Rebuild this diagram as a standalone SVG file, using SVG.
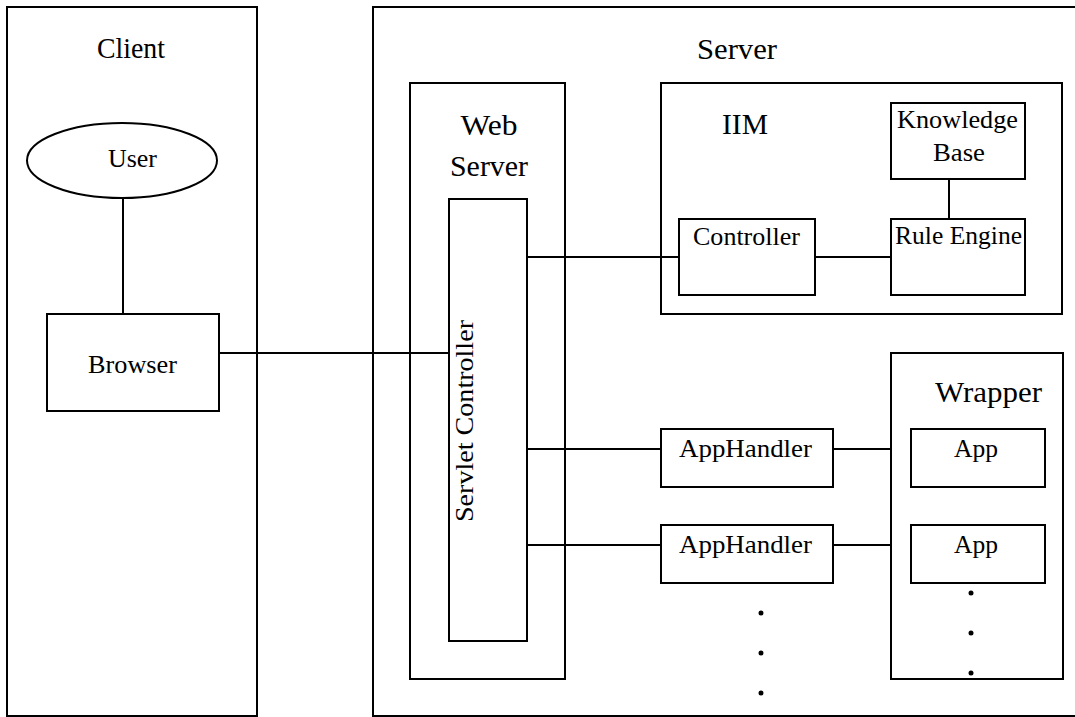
<svg xmlns="http://www.w3.org/2000/svg" width="1075" height="717" viewBox="0 0 1075 717">
<style>
.b{fill:none;stroke:#000;stroke-width:2}
.n{fill:#fff;stroke:#000;stroke-width:2}
.c{stroke:#000;stroke-width:2;fill:none}
.t{font-family:"Liberation Serif","Times New Roman",serif;font-size:30px;fill:#000;text-anchor:middle}
.s{font-family:"Liberation Serif","Times New Roman",serif;font-size:25px;fill:#000;text-anchor:middle}
.d{fill:#000}
</style>
<rect width="1075" height="717" fill="#fff"/>
<g id="client">
<rect class="b" x="7" y="7" width="250" height="709"/>
<text class="t" x="131" y="58" textLength="68" lengthAdjust="spacingAndGlyphs">Client</text>
</g>
<g id="server">
<rect class="b" x="373" y="7" width="720" height="709"/>
<text class="t" x="737" y="59" textLength="80" lengthAdjust="spacingAndGlyphs">Server</text>
</g>
<g id="connectors">
<line class="c" x1="123" y1="198" x2="123" y2="314"/>
<line class="c" x1="219" y1="353" x2="449" y2="353"/>
<line class="c" x1="527" y1="257" x2="679" y2="257"/>
<line class="c" x1="815" y1="257" x2="891" y2="257"/>
<line class="c" x1="949" y1="179" x2="949" y2="219"/>
<line class="c" x1="527" y1="449" x2="661" y2="449"/>
<line class="c" x1="527" y1="545" x2="661" y2="545"/>
<line class="c" x1="833" y1="449" x2="891" y2="449"/>
<line class="c" x1="833" y1="545" x2="891" y2="545"/>
</g>
<g id="user">
<ellipse class="n" cx="122" cy="160.5" rx="95" ry="37.5"/>
<text class="s" x="132.5" y="167" textLength="49" lengthAdjust="spacingAndGlyphs">User</text>
</g>
<g id="browser">
<rect class="n" x="47" y="314" width="172" height="97"/>
<text class="s" x="132.5" y="373" textLength="89" lengthAdjust="spacingAndGlyphs">Browser</text>
</g>
<g id="webserver">
<rect class="b" x="410" y="83" width="155" height="596"/>
<text class="t" x="489" y="135" textLength="57" lengthAdjust="spacingAndGlyphs">Web</text>
<text class="t" x="489" y="176" textLength="78" lengthAdjust="spacingAndGlyphs">Server</text>
</g>
<g id="servlet">
<rect class="n" x="449" y="199" width="78" height="442"/>
<text class="s" transform="translate(473 421) rotate(-90)" x="0" y="0" textLength="202" lengthAdjust="spacingAndGlyphs">Servlet Controller</text>
</g>
<g id="iim">
<rect class="b" x="661" y="83" width="401" height="231"/>
<text class="t" x="745" y="134" textLength="46" lengthAdjust="spacingAndGlyphs">IIM</text>
</g>
<g id="knowledgebase">
<rect class="n" x="891" y="103" width="134" height="76"/>
<text class="s" x="957.5" y="128" textLength="121" lengthAdjust="spacingAndGlyphs">Knowledge</text>
<text class="s" x="959" y="161" textLength="52" lengthAdjust="spacingAndGlyphs">Base</text>
</g>
<g id="controller">
<rect class="n" x="679" y="219" width="136" height="76"/>
<text class="s" x="746.5" y="245" textLength="107" lengthAdjust="spacingAndGlyphs">Controller</text>
</g>
<g id="ruleengine">
<rect class="n" x="891" y="219" width="134" height="76"/>
<text class="s" x="958.5" y="244" textLength="127" lengthAdjust="spacingAndGlyphs">Rule Engine</text>
</g>
<g id="wrapper">
<rect class="b" x="891" y="353" width="172" height="326"/>
<text class="t" x="988.5" y="402" textLength="107" lengthAdjust="spacingAndGlyphs">Wrapper</text>
</g>
<g id="apphandler1">
<rect class="n" x="661" y="429" width="172" height="58"/>
<text class="s" x="745.5" y="457" textLength="133" lengthAdjust="spacingAndGlyphs">AppHandler</text>
</g>
<g id="apphandler2">
<rect class="n" x="661" y="525" width="172" height="58"/>
<text class="s" x="745.5" y="553" textLength="133" lengthAdjust="spacingAndGlyphs">AppHandler</text>
</g>
<g id="app1">
<rect class="n" x="911" y="429" width="134" height="58"/>
<text class="s" x="976" y="457" textLength="44" lengthAdjust="spacingAndGlyphs">App</text>
</g>
<g id="app2">
<rect class="n" x="911" y="525" width="134" height="58"/>
<text class="s" x="976" y="553" textLength="44" lengthAdjust="spacingAndGlyphs">App</text>
</g>
<g id="dots">
<circle class="d" cx="761" cy="613" r="2.5"/>
<circle class="d" cx="761" cy="653" r="2.5"/>
<circle class="d" cx="761" cy="693" r="2.5"/>
<circle class="d" cx="971" cy="593" r="2.5"/>
<circle class="d" cx="971" cy="633" r="2.5"/>
<circle class="d" cx="971" cy="673" r="2.5"/>
</g>
</svg>
